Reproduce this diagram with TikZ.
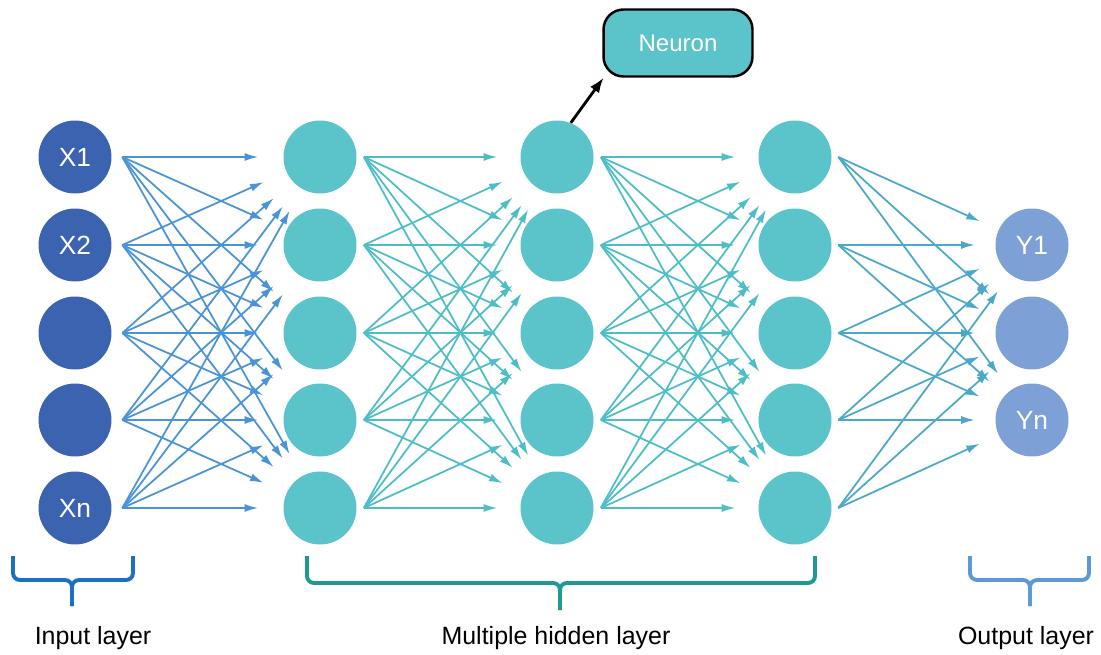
\documentclass[tikz,border=0pt]{standalone}
\usepackage{fontspec}
\setmainfont{Liberation Sans}
\usetikzlibrary{arrows.meta}

\definecolor{inblue}{HTML}{3B63B0}
\definecolor{hidteal}{HTML}{5BC4CA}
\definecolor{outblue}{HTML}{7DA0D6}
\definecolor{inlink}{HTML}{4A93D6}
\definecolor{hidlink}{HTML}{4DBDC6}
\definecolor{outlink}{HTML}{4BA8C9}
\definecolor{inbrace}{HTML}{1D6FC1}
\definecolor{hidbrace}{HTML}{1F9A92}
\definecolor{outbrace}{HTML}{5B9AD6}

\tikzset{
  unit/.style={circle, minimum size=1.46cm, inner sep=0pt, text=white, font=\fontsize{15}{15}\selectfont},
  link/.style={-{Latex[length=0.27cm,width=0.16cm]}, line width=1pt},
  brace/.style={line width=2.2pt, rounded corners=0.14cm},
  layerlabel/.style={font=\fontsize{14.2}{16}\selectfont, anchor=base},
  calloutbox/.style={draw=black, line width=1.4pt, rounded corners=0.4cm, fill=hidteal,
    minimum width=2.98cm, minimum height=1.34cm, text=white, font=\fontsize{13.7}{14}\selectfont},
}

\begin{document}
\begin{tikzpicture}[x=0.02cm, y=-0.02cm]
  \useasboundingbox (0,0) rectangle (1101,655);

  % input layer
  \node(in1) at (75,157) [unit, fill=inblue] {X1};
  \node(in2) at (75,245) [unit, fill=inblue] {X2};
  \node(in3) at (75,333) [unit, fill=inblue] {};
  \node(in4) at (75,420) [unit, fill=inblue] {};
  \node(in5) at (75,508) [unit, fill=inblue] {Xn};

  % hidden layers
  \foreach \n/\y in {1/157,2/245,3/333,4/420,5/508} {
    \node(ha\n) at (320,\y) [unit, fill=hidteal] {};
    \node(hb\n) at (557,\y) [unit, fill=hidteal] {};
    \node(hc\n) at (795,\y) [unit, fill=hidteal] {};
  }

  % output layer
  \node(out1) at (1032,245) [unit, fill=outblue] {Y1};
  \node(out2) at (1032,333) [unit, fill=outblue] {};
  \node(out3) at (1032,420) [unit, fill=outblue] {Yn};

  % weights
  \foreach \s in {1,...,5} {
    \foreach \t in {1,...,5} {
      \draw[link, inlink, shorten >=0.5cm] ([xshift=0.21cm]in\s.east) -- (ha\t);
      \draw[link, hidlink, shorten >=0.46cm] ([xshift=0.14cm]ha\s.east) -- (hb\t);
      \draw[link, hidlink, shorten >=0.46cm] ([xshift=0.14cm]hb\s.east) -- (hc\t);
    }
    \foreach \t in {1,2,3}
      \draw[link, outlink, shorten >=0.41cm] ([xshift=0.13cm]hc\s.east) -- (out\t);
  }

  % callout
  \node(neuron) at (678,43) [calloutbox] {Neuron};
  \draw[-{Latex[length=0.3cm,width=0.22cm]}, line width=1.6pt] (hb1.68) -- (neuron.-155);

  % braces
  \draw[brace, inbrace] (13,556) -- (13,580) -- (72,580) -- (72,606);
  \draw[brace, inbrace] (133,556) -- (133,580) -- (72,580) -- (72,606);
  \draw[brace, hidbrace] (307,556) -- (307,583) -- (560,583) -- (560,610);
  \draw[brace, hidbrace] (815,556) -- (815,583) -- (560,583) -- (560,610);
  \draw[brace, outbrace] (970,556) -- (970,580) -- (1030,580) -- (1030,606);
  \draw[brace, outbrace] (1089,556) -- (1089,580) -- (1030,580) -- (1030,606);

  \node(inlabel) at (93,644) [layerlabel] {Input layer};
  \node(hidlabel) at (556,644) [layerlabel] {Multiple hidden layer};
  \node(outlabel) at (1026,644) [layerlabel] {Output layer};
\end{tikzpicture}
\end{document}
